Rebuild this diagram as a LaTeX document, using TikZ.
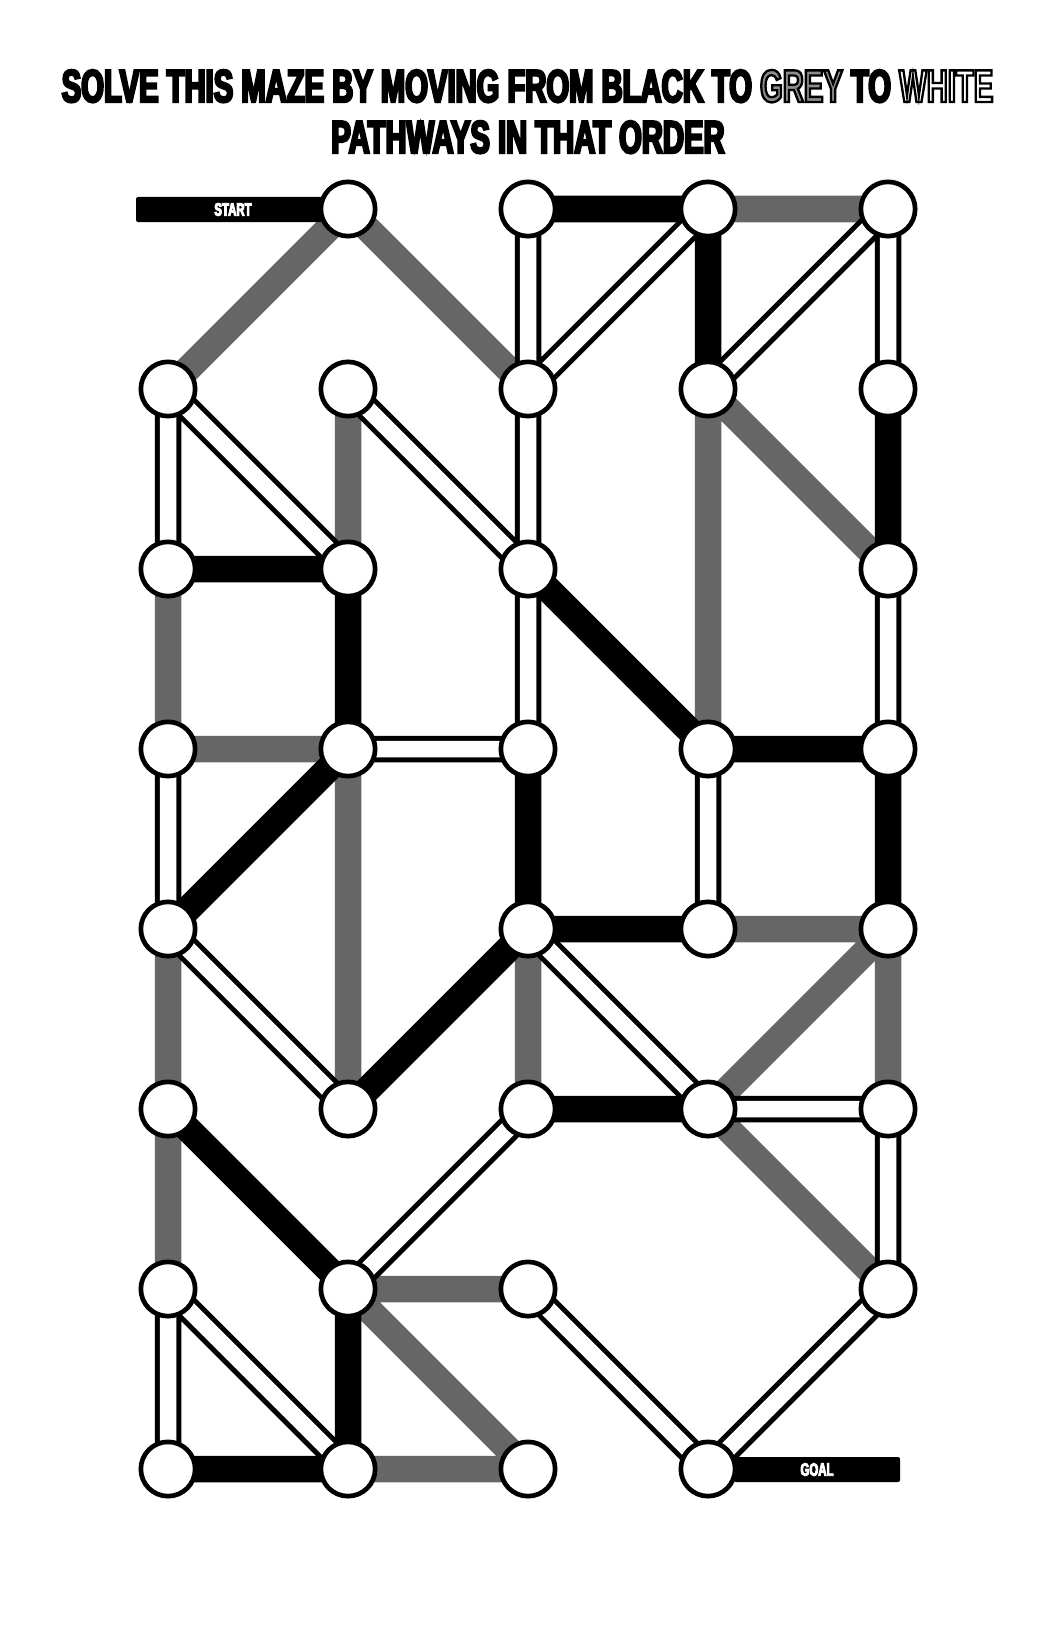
\documentclass[tikz,border=0pt]{standalone}
\usepackage{fontspec}
\usepackage{xcolor}
\usetikzlibrary{backgrounds}
\newfontfamily\mazefont{Liberation Sans}[UprightFont={* Bold}, FakeStretch=0.635, FakeBold=5]
\newcommand\hollowword[2]{\special{pdf:bcolor [#1] [0]}#2\special{pdf:ecolor}}
\definecolor{waygrey}{HTML}{666666}

\begin{document}
\begin{tikzpicture}[x=1pt, y=-1pt,
    spot/.style={circle, draw, line width=4.7pt, fill=white, minimum size=54.3pt, inner sep=0pt},
    tag/.style={rectangle, fill=black, rounded corners=2pt, minimum height=25pt, inner sep=0pt, text=white, font=\mazefont\fontsize{18}{18}\selectfont},
    heading/.style={anchor=base, inner sep=0pt, font=\mazefont\fontsize{46}{46}\selectfont},
    blackway/.style={draw=black, line width=26.5pt},
    greyway/.style={draw=waygrey, line width=26.5pt},
    whiteway/.style={draw=black, line width=5pt, double=white, double distance=16.5pt}
]
\useasboundingbox (0,0) rectangle (1056,1632);

\node[heading] (title1) at (527.5,102) {SOLVE THIS MAZE BY MOVING FROM BLACK TO \hollowword{0.55}{GREY} TO \hollowword{1}{WHITE}};
\node[heading] (title2) at (528,153) {PATHWAYS IN THAT ORDER};

\node[tag, minimum width=194pt] (start) at (233,209.5) {START};
\node[tag, minimum width=166pt] (goal) at (817,1469.5) {GOAL};

\node[spot] (n10) at (348,209) {};
\node[spot] (n20) at (528,209) {};
\node[spot] (n30) at (708,209) {};
\node[spot] (n40) at (888,209) {};

\node[spot] (n01) at (168,389) {};
\node[spot] (n11) at (348,389) {};
\node[spot] (n21) at (528,389) {};
\node[spot] (n31) at (708,389) {};
\node[spot] (n41) at (888,389) {};

\node[spot] (n02) at (168,569) {};
\node[spot] (n12) at (348,569) {};
\node[spot] (n22) at (528,569) {};
\node[spot] (n42) at (888,569) {};

\node[spot] (n03) at (168,749) {};
\node[spot] (n13) at (348,749) {};
\node[spot] (n23) at (528,749) {};
\node[spot] (n33) at (708,749) {};
\node[spot] (n43) at (888,749) {};

\node[spot] (n04) at (168,929) {};
\node[spot] (n24) at (528,929) {};
\node[spot] (n34) at (708,929) {};
\node[spot] (n44) at (888,929) {};

\node[spot] (n05) at (168,1109) {};
\node[spot] (n15) at (348,1109) {};
\node[spot] (n25) at (528,1109) {};
\node[spot] (n35) at (708,1109) {};
\node[spot] (n45) at (888,1109) {};

\node[spot] (n06) at (168,1289) {};
\node[spot] (n16) at (348,1289) {};
\node[spot] (n26) at (528,1289) {};
\node[spot] (n46) at (888,1289) {};

\node[spot] (n07) at (168,1469) {};
\node[spot] (n17) at (348,1469) {};
\node[spot] (n27) at (528,1469) {};
\node[spot] (n37) at (708,1469) {};

\begin{scope}[on background layer]
\fill[white] (0,0) rectangle (1056,1632);
\draw[greyway] (n10.center) -- (n01.center) (n10.center) -- (n21.center)
    (n30.center) -- (n40.center) (n31.center) -- (n33.center) (n31.center) -- (n42.center)
    (n11.center) -- (n12.center) (n02.center) -- (n03.center) (n03.center) -- (n13.center)
    (n13.center) -- (n15.center) (n24.center) -- (n25.center) (n34.center) -- (n44.center)
    (n44.center) -- (n35.center) (n44.center) -- (n45.center) (n04.center) -- (n05.center)
    (n05.center) -- (n06.center) (n35.center) -- (n46.center) (n16.center) -- (n26.center)
    (n16.center) -- (n27.center) (n17.center) -- (n27.center);
\draw[blackway] (n20.center) -- (n30.center) (n30.center) -- (n31.center) (n41.center) -- (n42.center)
    (n02.center) -- (n12.center) (n12.center) -- (n13.center) (n22.center) -- (n33.center)
    (n13.center) -- (n04.center) (n23.center) -- (n24.center) (n33.center) -- (n43.center)
    (n43.center) -- (n44.center) (n24.center) -- (n34.center) (n24.center) -- (n15.center)
    (n05.center) -- (n16.center) (n25.center) -- (n35.center) (n16.center) -- (n17.center)
    (n07.center) -- (n17.center);
\draw[whiteway] (n20.center) -- (n21.center) (n30.center) -- (n21.center) (n40.center) -- (n31.center)
    (n40.center) -- (n41.center) (n01.center) -- (n02.center) (n01.center) -- (n12.center)
    (n11.center) -- (n22.center) (n21.center) -- (n22.center) (n22.center) -- (n23.center)
    (n42.center) -- (n43.center) (n13.center) -- (n23.center) (n33.center) -- (n34.center)
    (n03.center) -- (n04.center) (n04.center) -- (n15.center) (n24.center) -- (n35.center)
    (n35.center) -- (n45.center) (n25.center) -- (n16.center) (n45.center) -- (n46.center)
    (n06.center) -- (n07.center) (n06.center) -- (n17.center) (n26.center) -- (n37.center)
    (n46.center) -- (n37.center);
\end{scope}
\end{tikzpicture}
\end{document}
